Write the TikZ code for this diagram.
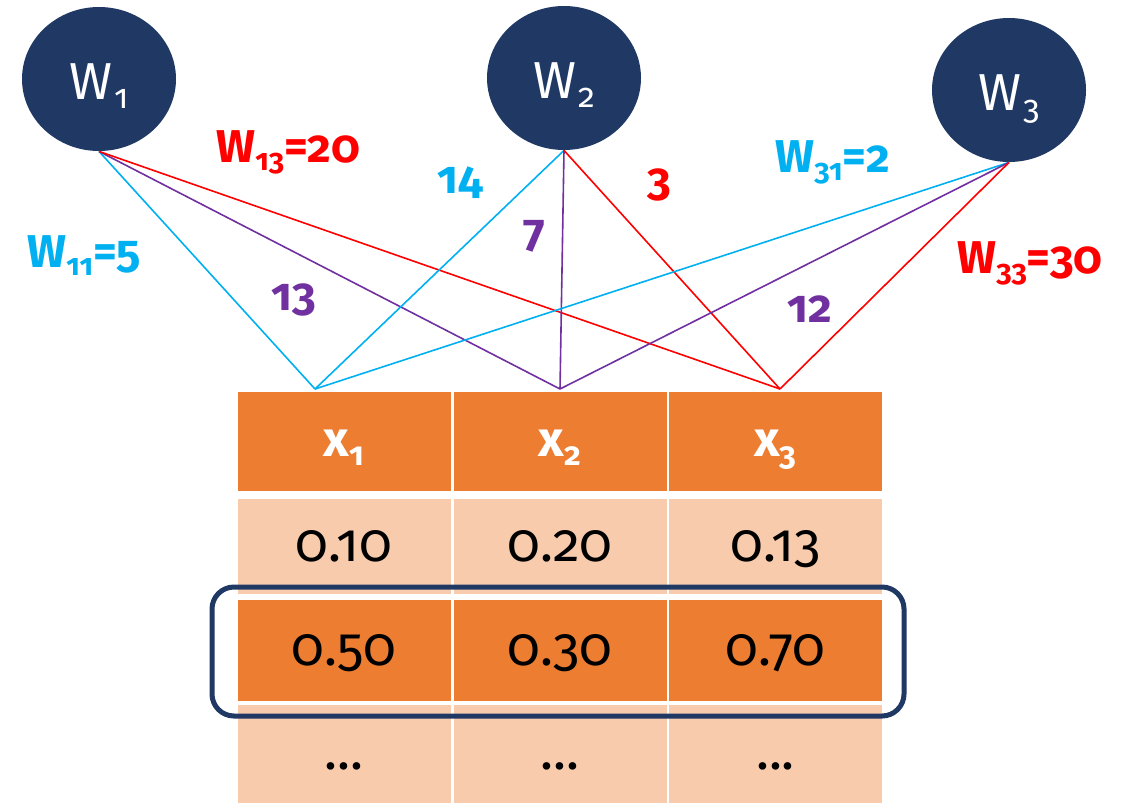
\documentclass[tikz,border=0pt]{standalone}
\usepackage{fontspec}
\setmainfont{Fira Sans}[Numbers=OldStyle]
\usetikzlibrary{shapes.geometric}
\definecolor{navy}{HTML}{203864}
\definecolor{org}{HTML}{ED7D31}
\definecolor{lorg}{HTML}{F8CBAD}
\definecolor{cy}{HTML}{00B0F0}
\definecolor{pu}{HTML}{7030A0}
\definecolor{rd}{HTML}{FF0000}
\newcommand\lowsub[1]{\raisebox{-0.18em}{\scalebox{0.65}{#1}}}
\begin{document}
\begin{tikzpicture}[x=0.5pt,y=-0.5pt,
  wnode/.style={ellipse, fill=navy, minimum width=77pt, minimum height=72pt, inner sep=0pt,
    text=white, text height=20pt, text depth=0pt, font=\fontsize{26}{30}\selectfont},
  cellbase/.style={rectangle, minimum width=106.5pt, inner sep=0pt, text height=15pt, text depth=0pt},
  hcell/.style={cellbase, fill=org, text=white, font=\bfseries\fontsize{25}{30}\selectfont},
  lcell/.style={cellbase, fill=lorg, text=black, font=\fontsize{27}{30}\selectfont},
  ocell/.style={lcell, fill=org},
  lbl/.style={anchor=base west, inner sep=0pt, font=\bfseries\fontsize{23}{27}\selectfont},
  edge/.style={line width=0.8pt}
]
\useasboundingbox (0,0) rectangle (1128,803);

% weight nodes
\node[wnode] (w1) at (99,79) {W\kern1pt\lowsub{1}};
\node[wnode] (w2) at (564,78) {W\kern1pt\lowsub{2}};
\node[wnode] (w3) at (1009,90) {W\kern1pt\lowsub{3}};

% apex points above table columns
\coordinate (a1) at (315,389);
\coordinate (a2) at (560,389);
\coordinate (a3) at (780,389);

% connections
\draw[edge,cy] (w1.south) -- (a1);
\draw[edge,pu] (w1.south) -- (a2);
\draw[edge,rd] (w1.south) -- (a3);
\draw[edge,cy] (w2.south) -- (a1);
\draw[edge,pu] (w2.south) -- (a2);
\draw[edge,rd] (w2.south) -- (a3);
\draw[edge,cy] (w3.south) -- (a1);
\draw[edge,pu] (w3.south) -- (a2);
\draw[edge,rd] (w3.south) -- (a3);

% table header
\node[hcell, minimum height=49.5pt] (h1) at (344,441.5) {x\lowsub{1}};
\node[hcell, minimum height=49.5pt] (h2) at (560,441.5) {x\lowsub{2}};
\node[hcell, minimum height=49.5pt] (h3) at (775.5,441.5) {x\lowsub{3}};
% row 1
\node[lcell, minimum height=47.5pt] (r11) at (344,546.5) {0.10};
\node[lcell, minimum height=47.5pt] (r12) at (560,546.5) {0.20};
\node[lcell, minimum height=47.5pt] (r13) at (775.5,546.5) {0.13};
% row 2
\node[ocell, minimum height=50.5pt] (r21) at (344,650.5) {0.50};
\node[ocell, minimum height=50.5pt] (r22) at (560,650.5) {0.30};
\node[ocell, minimum height=50.5pt] (r23) at (775.5,650.5) {0.70};
% row 3
\node[lcell, minimum height=49pt] (r31) at (344,754) {...};
\node[lcell, minimum height=49pt] (r32) at (560,754) {...};
\node[lcell, minimum height=49pt] (r33) at (775.5,754) {...};

% selection frame
\node[draw=navy, line width=2.5pt, rounded corners=11pt, minimum width=346pt,
  minimum height=64.5pt, inner sep=0pt] (sel) at (558,651.5) {};

% weight labels
\node[lbl, cy] (l11) at (27,267) {W\lowsub{11}=5};
\node[lbl, rd] (l13) at (216,162) {W\lowsub{13}=20};
\node[lbl, pu] (l13b) at (271,310) {13};
\node[lbl, cy] (l14) at (437,193) {14};
\node[lbl, pu] (l7) at (523,246) {7};
\node[lbl, rd] (l3) at (647,195) {3};
\node[lbl, cy] (l31) at (775,172) {W\lowsub{31}=2};
\node[lbl, rd] (l33) at (957,273) {W\lowsub{33}=30};
\node[lbl, pu] (l12) at (787,322) {12};
\end{tikzpicture}
\end{document}
